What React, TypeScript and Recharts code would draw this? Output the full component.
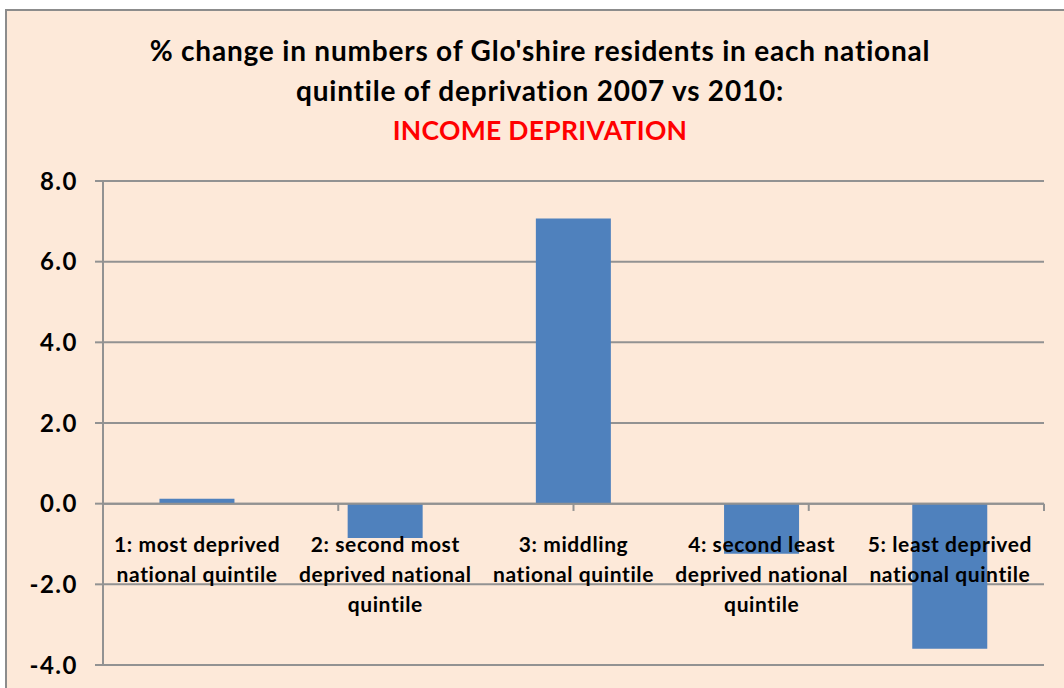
import { BarChart, Bar, XAxis, YAxis, CartesianGrid, ReferenceLine } from 'recharts';

const categories = [
  '1: most deprived\nnational quintile',
  '2: second most\ndeprived national\nquintile',
  '3: middling\nnational quintile',
  '4: second least\ndeprived national\nquintile',
  '5: least deprived\nnational quintile',
];
const values = [0.12, -0.85, 7.07, -1.24, -3.6];
const yTicks = [-4, -2, 0, 2, 4, 6, 8];
const boundaries = [1, 2, 3, 4, 5];

const Y_MIN = -4;
const Y_MAX = 8;
const CHART_W = 1064;
const CHART_H = 688;
const MARGIN = { top: 181, right: 20, bottom: 0, left: 0 };
const X_AXIS_H = 23;
const PLOT_H = CHART_H - MARGIN.top - MARGIN.bottom - X_AXIS_H;

const FONT = 'Lato, "Open Sans", sans-serif';
const AXIS = '#929292';

const data = categories.map((name, i) => ({ name, value: values[i] }));

function CategoryTick({ x, y, payload }: any) {
  const zeroY = y - (PLOT_H * (0 - Y_MIN)) / (Y_MAX - Y_MIN);
  const lines = String(payload.value).split('\n');
  return (
    <g>
      {lines.map((line, i) => (
        <text
          key={i}
          x={x}
          y={zeroY + 40 + i * 30}
          textAnchor="middle"
          dominantBaseline="central"
          fontFamily={FONT}
          fontWeight={700}
          fontSize={21}
          letterSpacing={0.6}
          fill="#000"
        >
          {line}
        </text>
      ))}
    </g>
  );
}

export default function App() {
  return (
    <div style={{ position: 'fixed', left: 0, top: 0, width: CHART_W, height: CHART_H, overflow: 'hidden', background: '#fff' }}>
      <div
        style={{
          position: 'absolute',
          left: 5,
          top: 9,
          width: 1100,
          height: 720,
          border: '2px solid #8c8c8c',
          background: '#FDE9D9',
        }}
      />
      <div
        style={{
          position: 'absolute',
          left: 0,
          top: 30,
          width: 1080,
          textAlign: 'center',
          fontFamily: FONT,
          fontWeight: 700,
          fontSize: 28,
          letterSpacing: 0.8,
          lineHeight: '40px',
          color: '#000',
        }}
      >
        <div>% change in numbers of Glo'shire residents in each national</div>
        <div>quintile of deprivation 2007 vs 2010:</div>
        <div style={{ color: '#FF0000', fontSize: 26.5, letterSpacing: 0.3 }}>INCOME DEPRIVATION</div>
      </div>
      <div style={{ position: 'absolute', left: 0, top: 0 }}>
        <BarChart width={CHART_W} height={CHART_H} data={data} margin={MARGIN} barCategoryGap="30%">
          <CartesianGrid vertical={false} stroke={AXIS} strokeWidth={2} />
          <XAxis
            dataKey="name"
            height={X_AXIS_H}
            axisLine={false}
            tickLine={false}
            tickSize={0}
            tickMargin={0}
            interval={0}
            tick={<CategoryTick />}
          />
          <XAxis xAxisId="b" type="number" domain={[0, 5]} hide />
          <YAxis
            domain={[Y_MIN, Y_MAX]}
            ticks={yTicks}
            interval={0}
            width={103}
            axisLine={{ stroke: AXIS, strokeWidth: 2 }}
            tickLine={{ stroke: AXIS, strokeWidth: 2 }}
            tickSize={8}
            tickMargin={17}
            tickFormatter={(v: number) => v.toFixed(1)}
            tick={{ fontFamily: FONT, fontWeight: 700, fontSize: 24, letterSpacing: 1.5, fill: '#000' }}
          />
          <Bar dataKey="value" fill="#4F81BD" isAnimationActive={false} />
          <ReferenceLine y={0} stroke={AXIS} strokeWidth={2} />
          {boundaries.map((b) => (
            <ReferenceLine
              key={b}
              xAxisId="b"
              segment={[
                { x: b, y: 0 },
                { x: b, y: -0.18 },
              ]}
              stroke={AXIS}
              strokeWidth={2}
            />
          ))}
        </BarChart>
      </div>
    </div>
  );
}
